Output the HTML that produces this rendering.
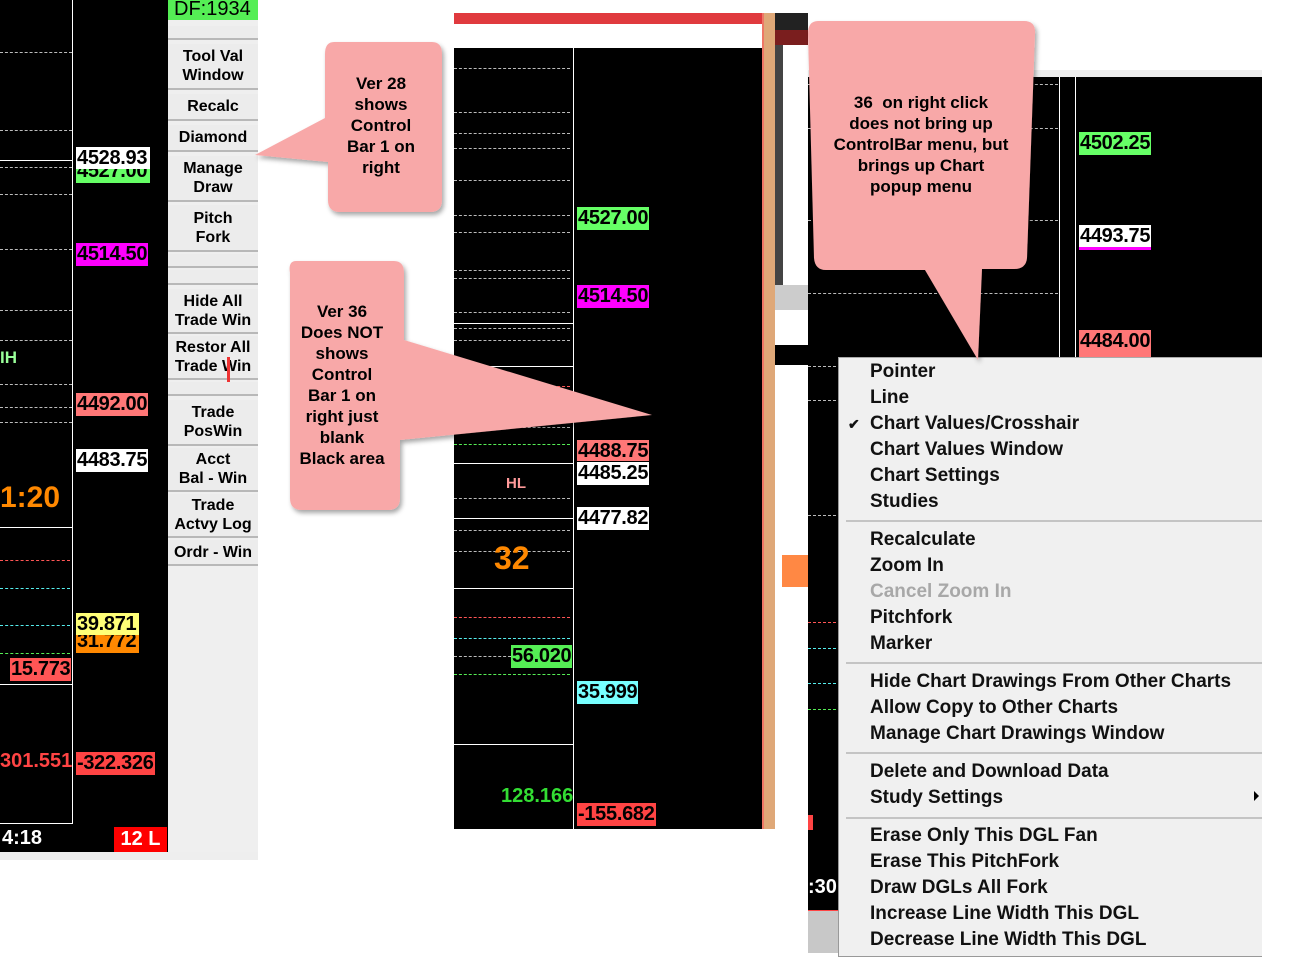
<!DOCTYPE html>
<html><head><meta charset="utf-8"><style>
*{margin:0;padding:0;box-sizing:border-box}
body{width:1300px;height:967px;background:#fff;position:relative;overflow:hidden;font-family:"Liberation Sans",Arial,sans-serif}
.a{position:absolute}
.blk{background:#000}
.lbl{position:absolute;font-weight:bold;font-size:20px;line-height:23px;height:23px;color:#000;padding:0 1px;letter-spacing:-0.3px}
.d{position:absolute;height:0;border-top:1px dashed #bbb}
.vl{position:absolute;width:1px;background:#fff}
.hl{position:absolute;height:1px;background:#fff}
.btn{position:absolute;left:168px;width:90px;background:#ececec;border-bottom:2px solid #b8b8b8;text-align:center;font-weight:bold;font-size:16px;line-height:19px;color:#000;display:flex;align-items:center;justify-content:center}
.mi{position:absolute;left:870px;font-weight:bold;font-size:19px;line-height:26px;color:#111;white-space:nowrap}
.sep{position:absolute;left:846px;width:416px;height:2px;background:#c4c4c4}
.ct{position:absolute;text-align:center;font-weight:bold;font-size:17px;line-height:21px;color:#000}
</style></head><body>

<!-- LEFT CHART -->
<div class="a blk" style="left:0;top:0;width:168px;height:852px"></div>
<div class="vl" style="left:72px;top:0;height:823px"></div>
<div class="hl" style="left:0;top:160px;width:72px"></div>
<div class="hl" style="left:0;top:527px;width:72px"></div>
<div class="hl" style="left:0;top:684px;width:72px"></div>
<div class="hl" style="left:0;top:823px;width:73px"></div>
<div class="d" style="left:0;top:52px;width:72px"></div>
<div class="d" style="left:0;top:130px;width:72px"></div>
<div class="d" style="left:0;top:167px;width:72px"></div>
<div class="d" style="left:0;top:194px;width:72px"></div>
<div class="d" style="left:0;top:249px;width:72px"></div>
<div class="d" style="left:0;top:310px;width:72px"></div>
<div class="d" style="left:0;top:340px;width:72px"></div>
<div class="d" style="left:0;top:384px;width:72px"></div>
<div class="d" style="left:0;top:407px;width:72px"></div>
<div class="d" style="left:0;top:422px;width:72px"></div>
<div class="d" style="left:0;top:560px;width:70px;border-color:#f55"></div>
<div class="d" style="left:0;top:588px;width:70px;border-color:#5ee"></div>
<div class="d" style="left:0;top:625px;width:70px;border-color:#5ee"></div>
<div class="d" style="left:0;top:653px;width:70px;border-color:#5e5"></div>
<div class="a" style="left:0;top:348px;color:#9f9;font-weight:bold;font-size:17px">IH</div>
<div class="lbl" style="left:76px;top:160px;background:#6f6;width:74px">4527.00</div>
<div class="lbl" style="left:76px;top:147px;background:#fff;width:74px;height:22px;line-height:22px">4528.93</div>
<div class="lbl" style="left:76px;top:243px;background:#f0f">4514.50</div>
<div class="lbl" style="left:76px;top:393px;background:#f77">4492.00</div>
<div class="lbl" style="left:76px;top:449px;background:#fff">4483.75</div>
<div class="a" style="left:0;top:480px;color:#f80;font-weight:bold;font-size:30px;line-height:36px">1:20</div>
<div class="lbl" style="left:76px;top:630px;background:#f80;width:63px">31.772</div>
<div class="lbl" style="left:76px;top:613px;background:#ff7;width:63px;height:22px;line-height:22px">39.871</div>
<div class="lbl" style="left:10px;top:658px;background:#f55">15.773</div>
<div class="a" style="left:0;top:750px;color:#f44;font-weight:bold;font-size:20px">301.551</div>
<div class="lbl" style="left:76px;top:752px;background:#f44">-322.326</div>
<div class="a" style="left:2px;top:827px;color:#fff;font-weight:bold;font-size:20px">4:18</div>
<div class="a" style="left:114px;top:827px;width:53px;height:25px;background:#f00;color:#fff;font-weight:bold;font-size:20px;text-align:center;line-height:25px">12 L</div>
<div class="a" style="left:0;top:852px;width:258px;height:8px;background:#eee"></div>

<!-- CONTROL BAR -->
<div class="a" style="left:168px;top:0;width:90px;height:852px;background:#efefef"></div>
<div class="a" style="left:168px;top:0;width:90px;height:20px;background:#5e5;color:#000;font-size:20px;line-height:18px;overflow:hidden;padding-left:6px">DF:1934</div>
<div class="btn" style="top:26px;height:14px"></div>
<div class="btn" style="top:44px;height:46px">Tool Val<br>Window</div>
<div class="btn" style="top:94px;height:27px">Recalc</div>
<div class="btn" style="top:125px;height:27px">Diamond</div>
<div class="btn" style="top:156px;height:46px">Manage<br>Draw</div>
<div class="btn" style="top:205px;height:47px">Pitch<br>Fork</div>
<div class="btn" style="top:254px;height:14px"></div>
<div class="btn" style="top:270px;height:15px"></div>
<div class="btn" style="top:289px;height:45px">Hide All<br>Trade Win</div>
<div class="btn" style="top:336px;height:44px">Restor All<br>Trade Win</div>
<div class="btn" style="top:382px;height:14px"></div>
<div class="btn" style="top:400px;height:46px">Trade<br>PosWin</div>
<div class="btn" style="top:448px;height:44px">Acct<br>Bal - Win</div>
<div class="btn" style="top:494px;height:44px">Trade<br>Actvy Log</div>
<div class="btn" style="top:540px;height:26px">Ordr - Win</div>
<div class="a" style="left:227px;top:357px;width:3px;height:25px;background:#e33"></div>

<!-- MIDDLE CHART -->
<div class="a" style="left:454px;top:13px;width:308px;height:11px;background:#e03a3e"></div>
<div class="a blk" style="left:454px;top:48px;width:308px;height:781px"></div>
<div class="vl" style="left:573px;top:48px;height:781px"></div>
<div class="hl" style="left:454px;top:323px;width:119px"></div>
<div class="hl" style="left:454px;top:366px;width:119px"></div>
<div class="hl" style="left:454px;top:463px;width:119px"></div>
<div class="hl" style="left:454px;top:518px;width:119px"></div>
<div class="hl" style="left:454px;top:588px;width:119px"></div>
<div class="hl" style="left:454px;top:744px;width:119px"></div>
<div class="d" style="left:454px;top:68px;width:116px"></div>
<div class="d" style="left:454px;top:112px;width:116px"></div>
<div class="d" style="left:454px;top:133px;width:116px"></div>
<div class="d" style="left:454px;top:148px;width:116px"></div>
<div class="d" style="left:454px;top:180px;width:116px"></div>
<div class="d" style="left:454px;top:215px;width:116px"></div>
<div class="d" style="left:454px;top:232px;width:116px"></div>
<div class="d" style="left:454px;top:270px;width:116px"></div>
<div class="d" style="left:454px;top:278px;width:116px"></div>
<div class="d" style="left:454px;top:312px;width:116px"></div>
<div class="d" style="left:454px;top:328px;width:116px"></div>
<div class="d" style="left:454px;top:340px;width:116px"></div>
<div class="d" style="left:454px;top:386px;width:116px;border-color:#f55"></div>
<div class="d" style="left:454px;top:404px;width:116px;border-color:#5ee"></div>
<div class="d" style="left:454px;top:427px;width:116px"></div>
<div class="d" style="left:454px;top:444px;width:116px;border-color:#5e5"></div>
<div class="d" style="left:454px;top:498px;width:116px"></div>
<div class="d" style="left:454px;top:530px;width:116px"></div>
<div class="d" style="left:454px;top:551px;width:116px"></div>
<div class="d" style="left:454px;top:617px;width:116px;border-color:#f55"></div>
<div class="d" style="left:454px;top:638px;width:116px;border-color:#5ee"></div>
<div class="d" style="left:454px;top:656px;width:116px"></div>
<div class="d" style="left:454px;top:674px;width:116px;border-color:#5e5"></div>
<div class="lbl" style="left:577px;top:207px;background:#6f6">4527.00</div>
<div class="lbl" style="left:577px;top:285px;background:#f0f">4514.50</div>
<div class="lbl" style="left:577px;top:440px;background:#f77;height:21px;line-height:22px">4488.75</div>
<div class="lbl" style="left:577px;top:462px;background:#fff">4485.25</div>
<div class="lbl" style="left:577px;top:507px;background:#fff">4477.82</div>
<div class="a" style="left:506px;top:475px;color:#f99;font-weight:bold;font-size:15px">HL</div>
<div class="a" style="left:494px;top:540px;color:#f80;font-weight:bold;font-size:32px">32</div>
<div class="lbl" style="left:511px;top:645px;background:#5e5">56.020</div>
<div class="lbl" style="left:577px;top:681px;background:#7ff">35.999</div>
<div class="a" style="left:501px;top:785px;color:#3d3;font-weight:bold;font-size:20px">128.166</div>
<div class="lbl" style="left:577px;top:803px;background:#f44">-155.682</div>
<div class="a" style="left:762px;top:13px;width:13px;height:816px;background:#dfa878;border-left:2px solid #e76"></div>
<div class="a" style="left:775px;top:13px;width:33px;height:817px;background:#fff"></div>
<div class="a" style="left:775px;top:13px;width:33px;height:17px;background:#222"></div>
<div class="a" style="left:775px;top:30px;width:33px;height:15px;background:#7a1e1e"></div>
<div class="a" style="left:775px;top:45px;width:33px;height:240px;background:#fff;border-left:8px solid #444"></div>
<div class="a" style="left:775px;top:285px;width:33px;height:25px;background:#ccc"></div>
<div class="a" style="left:775px;top:345px;width:33px;height:20px;background:#000"></div>
<div class="a" style="left:782px;top:555px;width:26px;height:32px;background:#f84"></div>

<!-- RIGHT CHART -->
<div class="a" style="left:808px;top:70px;width:454px;height:8px;background:#eee"></div>
<div class="a blk" style="left:808px;top:77px;width:454px;height:280px"></div>
<div class="a blk" style="left:808px;top:357px;width:30px;height:553px"></div>
<div class="a" style="left:808px;top:910px;width:30px;height:43px;background:#c8c8c8;border-top:1px solid #f44"></div>
<div class="vl" style="left:1059px;top:77px;height:280px"></div>
<div class="vl" style="left:1075px;top:77px;height:280px"></div>
<div class="d" style="left:808px;top:84px;width:250px"></div>
<div class="d" style="left:808px;top:128px;width:250px"></div>
<div class="d" style="left:808px;top:220px;width:250px"></div>
<div class="d" style="left:808px;top:293px;width:250px"></div>
<div class="d" style="left:808px;top:366px;width:28px"></div>
<div class="d" style="left:808px;top:400px;width:28px"></div>
<div class="d" style="left:808px;top:515px;width:28px"></div>
<div class="d" style="left:808px;top:622px;width:28px;border-color:#f55"></div>
<div class="d" style="left:808px;top:648px;width:28px;border-color:#5ee"></div>
<div class="d" style="left:808px;top:683px;width:28px;border-color:#5ee"></div>
<div class="d" style="left:808px;top:709px;width:28px;border-color:#5e5"></div>
<div class="a" style="left:808px;top:815px;width:5px;height:15px;background:#f44"></div>
<div class="a" style="left:808px;top:876px;color:#fff;font-weight:bold;font-size:20px">:30</div>
<div class="lbl" style="left:1079px;top:132px;background:#6f6">4502.25</div>
<div class="lbl" style="left:1079px;top:225px;background:#fff;border-bottom:3px solid #f0f;height:25px">4493.75</div>
<div class="lbl" style="left:1079px;top:330px;background:#f77;height:27px">4484.00</div>

<!-- MENU -->
<div class="a" style="left:838px;top:357px;width:424px;height:600px;background:#f0f0f0;border-left:1px solid #999;border-bottom:1px solid #999;border-top:1px solid #aaa"></div>
<div class="mi" style="top:359px">Pointer</div>
<div class="mi" style="top:385px">Line</div>
<div class="mi" style="top:411px;left:848px;font-size:14px">✔</div>
<div class="mi" style="top:411px">Chart Values/Crosshair</div>
<div class="mi" style="top:437px">Chart Values Window</div>
<div class="mi" style="top:463px">Chart Settings</div>
<div class="mi" style="top:489px">Studies</div>
<div class="sep" style="top:520px"></div>
<div class="mi" style="top:527px">Recalculate</div>
<div class="mi" style="top:553px">Zoom In</div>
<div class="mi" style="top:579px;color:#a8a8a8">Cancel Zoom In</div>
<div class="mi" style="top:605px">Pitchfork</div>
<div class="mi" style="top:631px">Marker</div>
<div class="sep" style="top:662px"></div>
<div class="mi" style="top:669px">Hide Chart Drawings From Other Charts</div>
<div class="mi" style="top:695px">Allow Copy to Other Charts</div>
<div class="mi" style="top:721px">Manage Chart Drawings Window</div>
<div class="sep" style="top:752px"></div>
<div class="mi" style="top:759px">Delete and Download Data</div>
<div class="mi" style="top:785px">Study Settings</div>
<div class="a" style="left:1254px;top:791px;width:0;height:0;border-top:5px solid transparent;border-bottom:5px solid transparent;border-left:5px solid #000"></div>
<div class="sep" style="top:817px"></div>
<div class="mi" style="top:823px">Erase Only This DGL Fan</div>
<div class="mi" style="top:849px">Erase This PitchFork</div>
<div class="mi" style="top:875px">Draw DGLs All Fork</div>
<div class="mi" style="top:901px">Increase Line Width This DGL</div>
<div class="mi" style="top:927px">Decrease Line Width This DGL</div>

<!-- CALLOUTS -->
<svg class="a" style="left:0;top:0" width="1300" height="967">
<defs><filter id="sh" x="-10%" y="-10%" width="130%" height="130%"><feDropShadow dx="2" dy="3" stdDeviation="2.5" flood-color="#000" flood-opacity="0.35"/></filter></defs>
<g fill="#f8a8a8" filter="url(#sh)">
<path d="M334,42 H432 Q442,42 442,54 V200 Q442,212 430,212 H340 Q328,212 328,200 V162 L255,155 L325,118 V54 Q325,42 334,42 Z"/>
<path d="M296,261 H394 Q404,261 404,273 V340 L652,415 L400,440 V498 Q400,510 388,510 H302 Q290,510 290,498 V273 Q288,261 296,261 Z"/>
<path d="M818,21 H1024 Q1036,21 1035,34 L1027,258 Q1026,269 1014,269 H982 L978,360 L925,270 H826 Q815,270 814,258 L808,34 Q808,21 818,21 Z"/>
</g>
</svg>
<div class="ct" style="left:330px;top:73px;width:102px">Ver 28<br>shows<br>Control<br>Bar 1 on<br>right</div>
<div class="ct" style="left:290px;top:301px;width:104px">Ver 36<br>Does NOT<br>shows<br>Control<br>Bar 1 on<br>right just<br>blank<br>Black area</div>
<div class="ct" style="left:815px;top:92px;width:212px;line-height:21px">36&nbsp; on right click<br>does not bring up<br>ControlBar menu, but<br>brings up Chart<br>popup menu</div>
</body></html>
